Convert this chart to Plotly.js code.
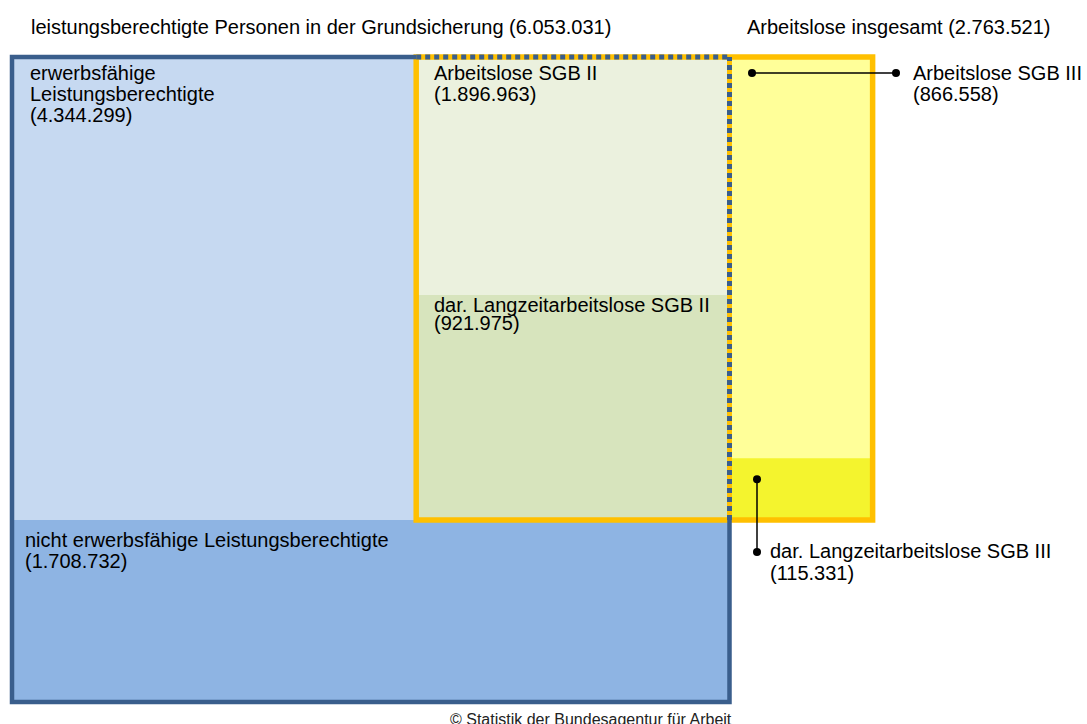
<!DOCTYPE html>
<html><head><meta charset="utf-8">
<script src="https://cdn.plot.ly/plotly-3.0.1.min.js"></script>
<style>html,body{margin:0;padding:0;background:#fff;overflow:hidden}#chart{width:1087px;height:724px;}</style>
</head><body><div id="chart"></div>
<script>
// ---- data ----
const categories = [
  "leistungsberechtigte Personen in der Grundsicherung",
  "erwerbsfähige Leistungsberechtigte",
  "nicht erwerbsfähige Leistungsberechtigte",
  "Arbeitslose SGB II",
  "dar. Langzeitarbeitslose SGB II",
  "Arbeitslose SGB III",
  "dar. Langzeitarbeitslose SGB III",
  "Arbeitslose insgesamt"
];
const values = [6053031, 4344299, 1708732, 1896963, 921975, 866558, 115331, 2763521];
const sourceNote = ["© Statistik der Bundesagentur für Arbeit"];

const [totalLb, eLb, neLb, alo2, lzAlo2, alo3, lzAlo3, aloTotal] = values;
const fmt = n => String(n).replace(/\B(?=(\d{3})+(?!\d))/g, '.');

// ---- scales (pixel per unit) ----
const PX_X = 717.5, PX_Y = 645;
const ux = 1 / PX_X;            // one pixel in x units
const uy = totalLb / PX_Y;      // one pixel in y units

// ---- regions (area proportional) ----
const rAll  = {x0: 0, x1: 1, y0: 0, y1: totalLb};
const rNe   = {x0: 0, x1: 1, y0: 0, y1: neLb};
const rE    = {x0: 0, x1: 1, y0: neLb, y1: neLb + eLb};
const rA2   = {x0: 1 - alo2 / eLb, x1: 1, y0: neLb, y1: neLb + eLb};
const rL2   = {x0: rA2.x0, x1: 1, y0: neLb, y1: neLb + eLb * lzAlo2 / alo2};
const rA3   = {x0: 1, x1: 1 + alo3 / eLb, y0: neLb, y1: neLb + eLb};
const rL3   = {x0: 1, x1: rA3.x1, y0: neLb, y1: neLb + eLb * lzAlo3 / alo3};

const C = {
  lightBlue: '#C6D9F1', darkBlue: '#8EB4E3', lightGreen: '#EBF1DE', darkGreen: '#D7E4BD',
  lightYellow: '#FFFF99', yellow: '#F4F42E', border: '#3A5E8C', orange: '#FFC000'
};

function rect(r, color) {
  return {type: 'rect', xref: 'x', yref: 'y', x0: r.x0, x1: r.x1, y0: r.y0, y1: r.y1,
          fillcolor: color, line: {width: 0}, layer: 'below'};
}
function line(x0, y0, x1, y1, color, width, dash) {
  return {type: 'line', xref: 'x', yref: 'y', x0, y0, x1, y1,
          line: {color, width, dash: dash || 'solid'}, layer: 'below'};
}

const shapes = [
  rect(rE, C.lightBlue), rect(rNe, C.darkBlue),
  rect(rA2, C.lightGreen), rect(rL2, C.darkGreen),
  rect(rA3, C.lightYellow), rect(rL3, C.yellow),
  // orange frame around Arbeitslose
  {type: 'rect', xref: 'x', yref: 'y', x0: rA2.x0, x1: rA3.x1, y0: rA2.y0, y1: rA2.y1,
   fillcolor: 'rgba(0,0,0,0)', line: {color: C.orange, width: 5.5}, layer: 'below'},
  // blue frame of Grundsicherung
  {type: 'path', xref: 'x', yref: 'y',
   path: `M ${rA2.x0} ${rAll.y1} L ${rAll.x0} ${rAll.y1} L ${rAll.x0} ${rAll.y0} L ${rAll.x1} ${rAll.y0} L ${rAll.x1} ${neLb}`,
   line: {color: C.border, width: 4.5}, layer: 'below'},
  // overlapping part: orange under blue dashes
  line(1, neLb, 1, rAll.y1, C.orange, 5),
  line(rA2.x0, rAll.y1, 1, rAll.y1, C.border, 5, '5px,4px'),
  line(1, neLb, 1, rAll.y1, C.border, 5, '5px,4px')
];

// ---- text ----
const FONT = {family: 'Liberation Sans, Arial, sans-serif', size: 20, color: '#000'};
const annotations = [];
function txt(text, x, y, dx, dy, opts) {
  annotations.push(Object.assign({
    text, x, y, xref: 'x', yref: 'y', xanchor: 'left', yanchor: 'middle',
    xshift: dx, yshift: -dy, showarrow: false, font: FONT, borderpad: 0
  }, opts || {}));
}
// headings
txt(`${categories[0]} (${fmt(totalLb)})`, rAll.x0, rAll.y1, 18, -30);
txt(`${categories[7]} (${fmt(aloTotal)})`, rA3.x0, rA3.y1, 16, -30);
// erwerbsfähige
txt('erwerbsfähige', rE.x0, rE.y1, 17, 16);
txt('Leistungsberechtigte', rE.x0, rE.y1, 17, 37);
txt(`(${fmt(eLb)})`, rE.x0, rE.y1, 17, 58);
// nicht erwerbsfähige
txt(categories[2], rNe.x0, rNe.y1, 12, 20);
txt(`(${fmt(neLb)})`, rNe.x0, rNe.y1, 12, 41);
// Arbeitslose SGB II
txt(categories[3], rA2.x0, rA2.y1, 17, 16);
txt(`(${fmt(alo2)})`, rA2.x0, rA2.y1, 17, 37);
// Langzeit SGB II
txt(categories[4], rL2.x0, rL2.y1, 17, 10);
txt(`(${fmt(lzAlo2)})`, rL2.x0, rL2.y1, 17, 28);
// Arbeitslose SGB III (callout)
txt(categories[5], rA3.x0, rA3.y1, 182, 16);
txt(`(${fmt(alo3)})`, rA3.x0, rA3.y1, 182, 37);
// Langzeit SGB III (callout)
txt(categories[6], rL3.x0, rL3.y0, 39, 31);
txt(`(${fmt(lzAlo3)})`, rL3.x0, rL3.y0, 39, 53);
// source
annotations.push({text: sourceNote[0], x: rAll.x1, y: rAll.y0, xref: 'x', yref: 'y',
  xanchor: 'right', yanchor: 'middle', xshift: 4, yshift: -17, showarrow: false,
  font: {family: FONT.family, size: 16, color: '#222'}});

// ---- callout leaders ----
const leader = {color: '#000', width: 1.5};
const traces = [
  {x: [rA3.x0 + 22.5 * ux, rA3.x0 + 166.5 * ux], y: [rA3.y1 - 16 * uy, rA3.y1 - 16 * uy],
   mode: 'lines+markers', line: leader, marker: {size: 8, color: '#000'}, hoverinfo: 'skip', cliponaxis: false},
  {x: [rL3.x0 + 27.5 * ux, rL3.x0 + 27.5 * ux], y: [rL3.y1 - 21 * uy, rL3.y0 - 32 * uy],
   mode: 'lines+markers', line: leader, marker: {size: 8, color: '#000'}, hoverinfo: 'skip', cliponaxis: false}
];

const layout = {
  width: 1087, height: 724, margin: {l: 0, r: 0, t: 0, b: 0},
  paper_bgcolor: '#fff', plot_bgcolor: 'rgba(0,0,0,0)', showlegend: false,
  xaxis: {range: [-12 * ux, (1087 - 12) * ux], visible: false, fixedrange: true},
  yaxis: {range: [-(724 - 702) * uy, totalLb + 57 * uy], visible: false, fixedrange: true},
  shapes, annotations
};
Plotly.newPlot('chart', traces, layout, {displayModeBar: false, staticPlot: true});
</script>
</body></html>
